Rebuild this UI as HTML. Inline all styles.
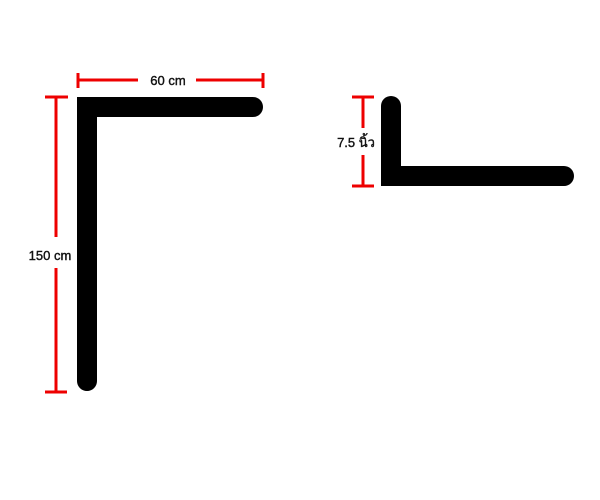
<!DOCTYPE html>
<html><head><meta charset="utf-8"><style>html,body{margin:0;padding:0;background:#fff;width:600px;height:500px;overflow:hidden}</style></head>
<body>
<svg width="600" height="500" xmlns="http://www.w3.org/2000/svg" font-family="Liberation Sans, 'Noto Sans CJK SC', sans-serif">
<rect width="600" height="500" fill="#fff"/>
<g fill="none" stroke="#000" stroke-width="20" stroke-linecap="round" stroke-linejoin="miter">
<polyline points="87,381 87,107 253,107"/>
<polyline points="391,106 391,176 564,176"/>
</g>
<g stroke="#e00" stroke-width="3" fill="none">
<line x1="78" y1="80" x2="138" y2="80"/><line x1="196" y1="80" x2="263" y2="80"/>
<line x1="78" y1="73" x2="78" y2="88"/><line x1="263" y1="73" x2="263" y2="88"/>
<line x1="56" y1="97" x2="56" y2="237"/><line x1="56" y1="268" x2="56" y2="392"/>
<line x1="45" y1="97" x2="68" y2="97"/><line x1="45" y1="392" x2="67" y2="392"/>
<line x1="363" y1="97" x2="363" y2="128"/><line x1="363" y1="155" x2="363" y2="186"/>
<line x1="352" y1="97" x2="374" y2="97"/><line x1="352" y1="186" x2="374" y2="186"/>
</g>
<g font-size="13" fill="#111" stroke="#111" stroke-width="0.4" text-anchor="middle">
<text x="168" y="85">60 cm</text>
<text x="50" y="260">150 cm</text>
<text x="356" y="147" font-family="Liberation Sans, 'Noto Sans CJK SC', 'DejaVu Sans', sans-serif">7.5 นิ้ว</text>
</g>
</svg>
</body></html>
